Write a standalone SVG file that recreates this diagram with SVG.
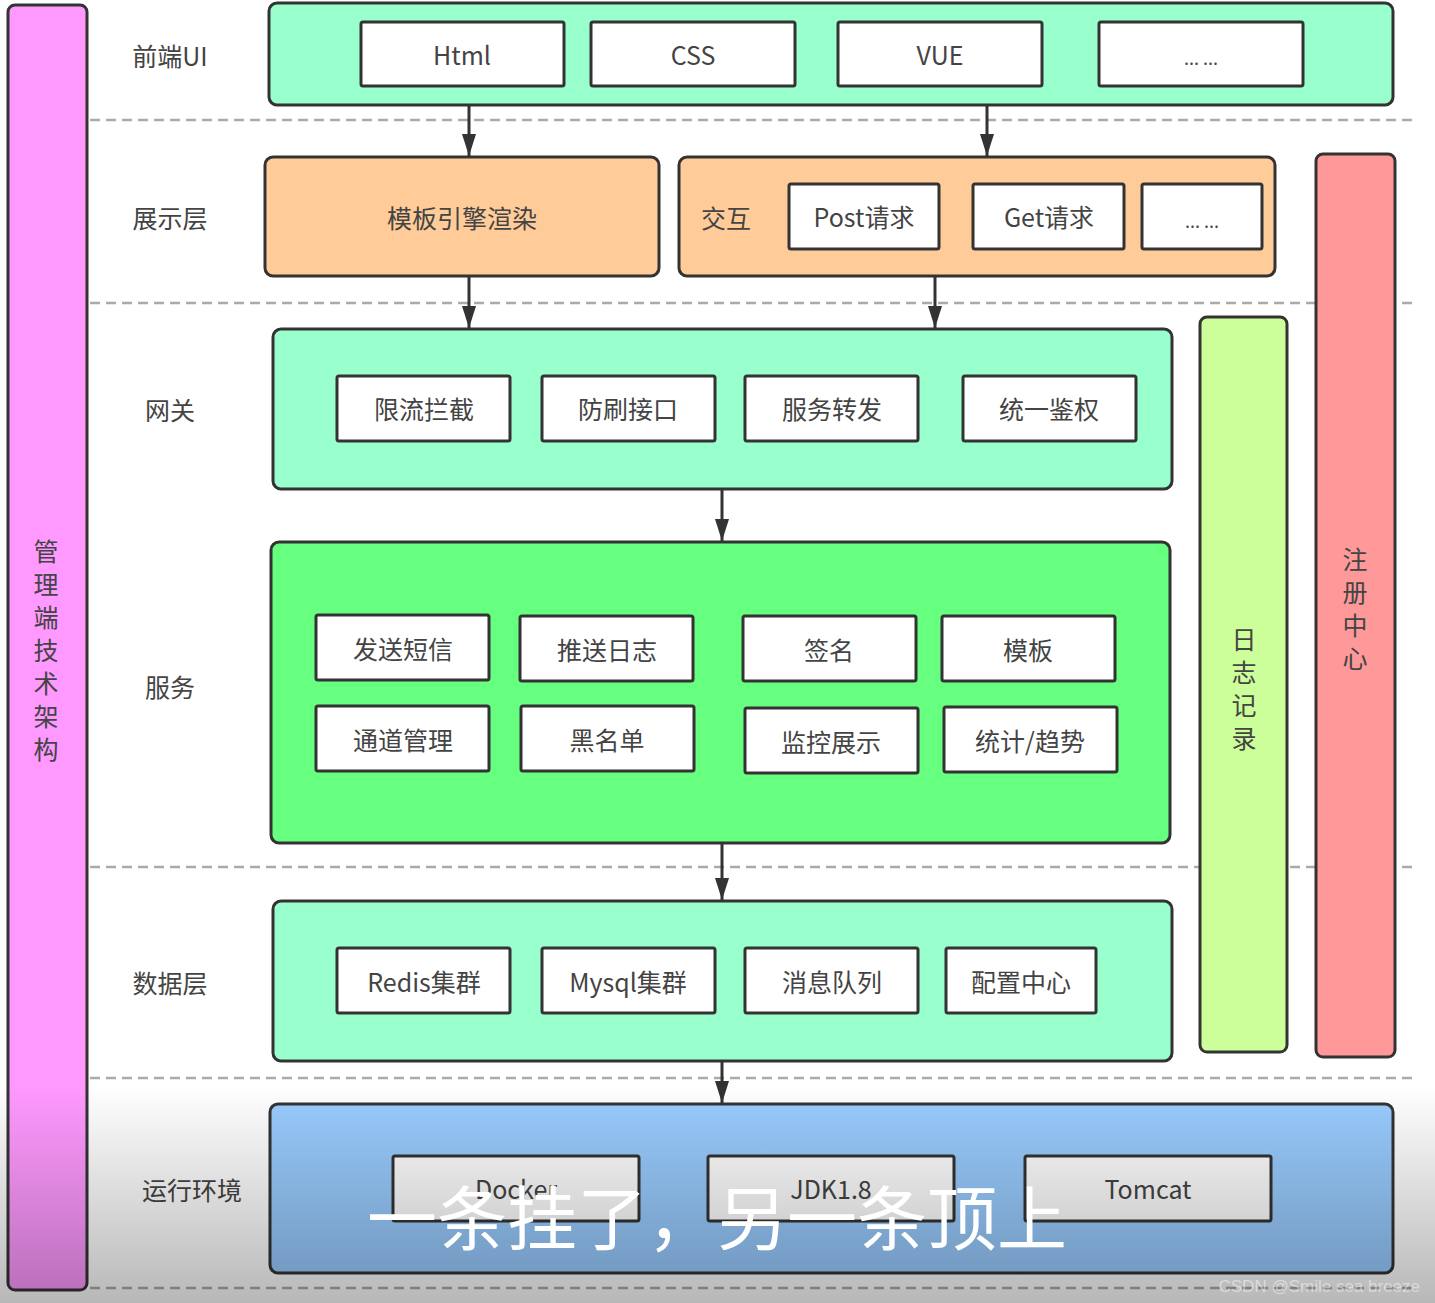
<svg xmlns="http://www.w3.org/2000/svg" width="1435" height="1303" viewBox="0 0 1435 1303">
<defs>
<marker id="arr" markerWidth="22" markerHeight="14" refX="22" refY="7" orient="auto" markerUnits="userSpaceOnUse" viewBox="0 0 22 14">
<path d="M0,0 L22,7 L0,14 Z" fill="#333"/>
</marker>
<linearGradient id="shade" x1="0" y1="0" x2="0" y2="1">
<stop offset="0" stop-color="#000" stop-opacity="0"/>
<stop offset="1" stop-color="#000" stop-opacity="0.28"/>
</linearGradient>
<style>
.t{font-family:"Noto Sans CJK SC","Noto Sans",sans-serif;font-size:25px;fill:#444;text-anchor:middle;dominant-baseline:central}
.lbl{font-family:"Noto Sans CJK SC","Noto Sans",sans-serif;font-size:25px;fill:#444;text-anchor:middle;dominant-baseline:central}
.outer{stroke:#333;stroke-width:3}
.inner{fill:#fff;stroke:#333;stroke-width:3}
.dash{stroke:#aaa;stroke-width:2.5;stroke-dasharray:10 6;fill:none}
.conn{stroke:#333;stroke-width:3;fill:none;marker-end:url(#arr)}
</style>
</defs>
<rect width="1435" height="1303" fill="#fff"/>

<g id="dashes">
<line class="dash" x1="90" y1="120" x2="1415" y2="120"/>
<line class="dash" x1="90" y1="303" x2="1415" y2="303"/>
<line class="dash" x1="90" y1="867" x2="1415" y2="867"/>
<line class="dash" x1="90" y1="1078" x2="1415" y2="1078"/>
<line class="dash" x1="90" y1="1288" x2="1415" y2="1288"/>
</g>

<g id="labels">
<text class="lbl" x="170" y="55">前端UI</text>
<text class="lbl" x="170" y="217">展示层</text>
<text class="lbl" x="170" y="409">网关</text>
<text class="lbl" x="170" y="686">服务</text>
<text class="lbl" x="170" y="982">数据层</text>
<text class="lbl" x="192" y="1189">运行环境</text>
</g>

<g id="admin">
<rect class="outer" x="8" y="5" width="79" height="1285" rx="7" fill="#ff99ff"/>
<text class="t" x="46" y="550">管</text>
<text class="t" x="46" y="583">理</text>
<text class="t" x="46" y="616">端</text>
<text class="t" x="46" y="649">技</text>
<text class="t" x="46" y="682">术</text>
<text class="t" x="46" y="715">架</text>
<text class="t" x="46" y="748">构</text>
</g>

<g id="registry">
<rect class="outer" x="1316" y="154" width="79" height="903" rx="7" fill="#ff9999"/>
<text class="t" x="1355" y="558">注</text>
<text class="t" x="1355" y="591">册</text>
<text class="t" x="1355" y="624">中</text>
<text class="t" x="1355" y="657">心</text>
</g>

<g id="log">
<rect class="outer" x="1200" y="317" width="87" height="735" rx="7" fill="#ccff99"/>
<text class="t" x="1244" y="638">日</text>
<text class="t" x="1244" y="671">志</text>
<text class="t" x="1244" y="704">记</text>
<text class="t" x="1244" y="737">录</text>
</g>

<g id="frontend">
<rect class="outer" x="269" y="3" width="1124" height="102" rx="8" fill="#99ffcc"/>
<rect class="inner" x="361" y="22" width="203" height="64" rx="2"/>
<text class="t" x="462" y="54">Html</text>
<rect class="inner" x="591" y="22" width="204" height="64" rx="2"/>
<text class="t" x="693" y="54">CSS</text>
<rect class="inner" x="838" y="22" width="204" height="64" rx="2"/>
<text class="t" x="940" y="54">VUE</text>
<rect class="inner" x="1099" y="22" width="204" height="64" rx="2"/>
<text class="t" x="1201" y="57" style="font-size:18px">... ...</text>
</g>

<g id="template">
<rect class="outer" x="265" y="157" width="394" height="119" rx="8" fill="#ffcc99"/>
<text class="t" x="462" y="217">模板引擎渲染</text>
</g>

<g id="interaction">
<rect class="outer" x="679" y="157" width="596" height="119" rx="8" fill="#ffcc99"/>
<text class="t" x="726" y="217">交互</text>
<rect class="inner" x="789" y="184" width="150" height="65" rx="2"/>
<text class="t" x="864" y="216">Post请求</text>
<rect class="inner" x="973" y="184" width="151" height="65" rx="2"/>
<text class="t" x="1049" y="216">Get请求</text>
<rect class="inner" x="1142" y="184" width="120" height="65" rx="2"/>
<text class="t" x="1202" y="220" style="font-size:18px">... ...</text>
</g>

<g id="gateway">
<rect class="outer" x="273" y="329" width="899" height="160" rx="8" fill="#99ffcc"/>
<rect class="inner" x="337" y="376" width="173" height="65" rx="2"/>
<text class="t" x="424" y="408">限流拦截</text>
<rect class="inner" x="542" y="376" width="173" height="65" rx="2"/>
<text class="t" x="628" y="408">防刷接口</text>
<rect class="inner" x="745" y="376" width="173" height="65" rx="2"/>
<text class="t" x="832" y="408">服务转发</text>
<rect class="inner" x="963" y="376" width="173" height="65" rx="2"/>
<text class="t" x="1049" y="408">统一鉴权</text>
</g>

<g id="service">
<rect class="outer" x="271" y="542" width="899" height="301" rx="8" fill="#66ff7f"/>
<rect class="inner" x="316" y="615" width="173" height="65" rx="2"/>
<text class="t" x="403" y="648">发送短信</text>
<rect class="inner" x="520" y="616" width="173" height="65" rx="2"/>
<text class="t" x="607" y="649">推送日志</text>
<rect class="inner" x="743" y="616" width="173" height="65" rx="2"/>
<text class="t" x="829" y="649">签名</text>
<rect class="inner" x="942" y="616" width="173" height="65" rx="2"/>
<text class="t" x="1028" y="649">模板</text>
<rect class="inner" x="316" y="706" width="173" height="65" rx="2"/>
<text class="t" x="403" y="739">通道管理</text>
<rect class="inner" x="521" y="706" width="173" height="65" rx="2"/>
<text class="t" x="607" y="739">黑名单</text>
<rect class="inner" x="745" y="708" width="173" height="65" rx="2"/>
<text class="t" x="831" y="741">监控展示</text>
<rect class="inner" x="944" y="707" width="173" height="65" rx="2"/>
<text class="t" x="1030" y="740">统计/趋势</text>
</g>

<g id="data">
<rect class="outer" x="273" y="901" width="899" height="160" rx="8" fill="#99ffcc"/>
<rect class="inner" x="337" y="948" width="173" height="65" rx="2"/>
<text class="t" x="424" y="981">Redis集群</text>
<rect class="inner" x="542" y="948" width="173" height="65" rx="2"/>
<text class="t" x="628" y="981">Mysql集群</text>
<rect class="inner" x="745" y="948" width="173" height="65" rx="2"/>
<text class="t" x="832" y="981">消息队列</text>
<rect class="inner" x="946" y="948" width="150" height="65" rx="2"/>
<text class="t" x="1021" y="981">配置中心</text>
</g>

<g id="runtime">
<rect class="outer" x="270" y="1104" width="1123" height="169" rx="8" fill="#99ccff"/>
<rect class="inner" x="393" y="1156" width="246" height="65" rx="2"/>
<text class="t" x="516" y="1188">Docker</text>
<rect class="inner" x="708" y="1156" width="246" height="65" rx="2"/>
<text class="t" x="831" y="1188">JDK1.8</text>
<rect class="inner" x="1025" y="1156" width="246" height="65" rx="2"/>
<text class="t" x="1148" y="1188">Tomcat</text>
</g>

<g id="connectors">
<line class="conn" x1="469" y1="105" x2="469" y2="156"/>
<line class="conn" x1="987" y1="105" x2="987" y2="156"/>
<line class="conn" x1="469" y1="276" x2="469" y2="328"/>
<line class="conn" x1="935" y1="276" x2="935" y2="328"/>
<line class="conn" x1="722" y1="489" x2="722" y2="541"/>
<line class="conn" x1="722" y1="843" x2="722" y2="900"/>
<line class="conn" x1="722" y1="1061" x2="722" y2="1103"/>
</g>

<g id="overlay">
<rect x="0" y="1085" width="1435" height="218" fill="url(#shade)"/>
<text x="717" y="1245" font-family="Noto Sans CJK SC, sans-serif" font-size="70" fill="#fff" text-anchor="middle">一条挂了，另一条顶上</text>
<text x="1420" y="1292" font-family="Liberation Sans, sans-serif" font-size="17" fill="#fff" fill-opacity="0.45" text-anchor="end">CSDN @Smile sea breeze</text>
</g>
</svg>
